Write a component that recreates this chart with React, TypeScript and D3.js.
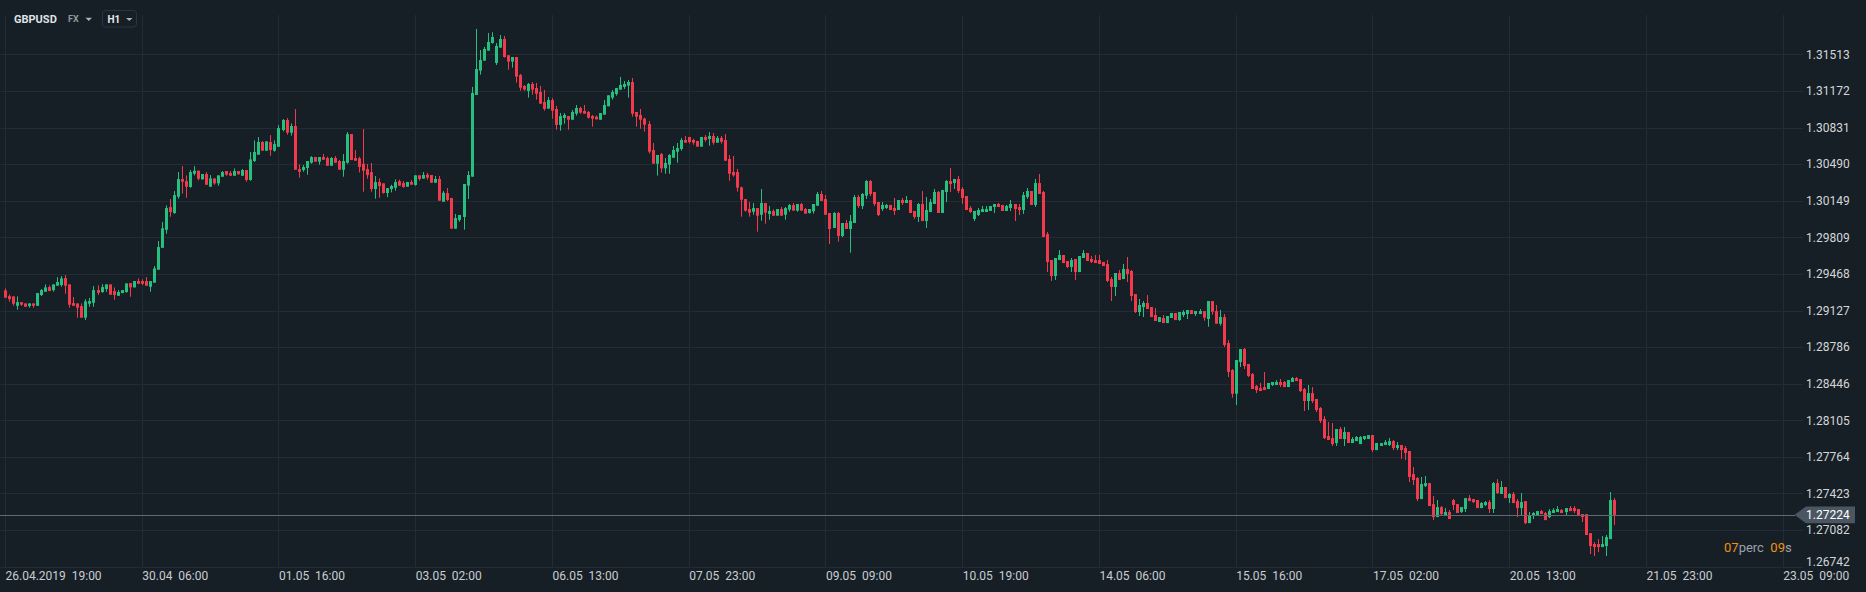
import React from "react";
import * as d3 from "d3";

const symbol = "GBPUSD";
const market = "FX";
const timeframe = "H1";
const countdown = [
  { v: "07", unit: "perc" },
  { v: "09", unit: "s" },
];

// one label every 34 hourly bars
const xTickLabels = [
  "26.04.2019  19:00", "30.04  06:00", "01.05  16:00", "03.05  02:00", "06.05  13:00",
  "07.05  23:00", "09.05  09:00", "10.05  19:00", "14.05  06:00", "15.05  16:00",
  "17.05  02:00", "20.05  13:00", "21.05  23:00", "23.05  09:00",
];
const barsPerTick = 34;

const yTickLabels = [
  "1.26742", "1.27082", "1.27423", "1.27764", "1.28105", "1.28446", "1.28786", "1.29127",
  "1.29468", "1.29809", "1.30149", "1.30490", "1.30831", "1.31172", "1.31513",
];

const opens = [
  1.29314, 1.29261, 1.29258, 1.29171, 1.29205, 1.29193, 1.29168, 1.29193, 1.29171, 1.29271,
  1.29302, 1.29345, 1.29317, 1.29358, 1.29364, 1.29429, 1.29370, 1.29196, 1.29193, 1.29168,
  1.29060, 1.29190, 1.29199, 1.29317, 1.29299, 1.29327, 1.29370, 1.29308, 1.29264, 1.29289,
  1.29299, 1.29382, 1.29342, 1.29401, 1.29401, 1.29401, 1.29348, 1.29386, 1.29507, 1.29711,
  1.29879, 1.30090, 1.30034, 1.30187, 1.30351, 1.30332, 1.30277, 1.30401, 1.30429, 1.30348,
  1.30398, 1.30280, 1.30357, 1.30311, 1.30373, 1.30426, 1.30407, 1.30382, 1.30426, 1.30382,
  1.30435, 1.30342, 1.30519, 1.30578, 1.30696, 1.30615, 1.30696, 1.30615, 1.30652, 1.30808,
  1.30901, 1.30783, 1.30845, 1.30444, 1.30435, 1.30454, 1.30503, 1.30556, 1.30513, 1.30556,
  1.30547, 1.30475, 1.30547, 1.30519, 1.30438, 1.30503, 1.30770, 1.30547, 1.30544, 1.30494,
  1.30444, 1.30416, 1.30258, 1.30323, 1.30311, 1.30221, 1.30258, 1.30270, 1.30332, 1.30314,
  1.30280, 1.30324, 1.30296, 1.30386, 1.30355, 1.30392, 1.30389, 1.30317, 1.30352, 1.30140,
  1.30221, 1.30175, 1.29889, 1.29970, 1.29998, 1.30290, 1.30373, 1.31134, 1.31361, 1.31454,
  1.31547, 1.31618, 1.31432, 1.31575, 1.31656, 1.31504, 1.31445, 1.31488, 1.31320, 1.31218,
  1.31171, 1.31237, 1.31199, 1.31162, 1.31069, 1.31007, 1.31087, 1.31004, 1.30855, 1.30920,
  1.30938, 1.30904, 1.30960, 1.31013, 1.30985, 1.30976, 1.30938, 1.30932, 1.30904, 1.30951,
  1.31029, 1.31109, 1.31143, 1.31184, 1.31209, 1.31221, 1.31255, 1.30976, 1.30948, 1.30914,
  1.30864, 1.30622, 1.30494, 1.30584, 1.30451, 1.30485, 1.30550, 1.30606, 1.30631, 1.30715,
  1.30743, 1.30715, 1.30706, 1.30653, 1.30743, 1.30724, 1.30752, 1.30690, 1.30734, 1.30715,
  1.30538, 1.30417, 1.30417, 1.30274, 1.30165, 1.30072, 1.30047, 1.30081, 1.30019, 1.30128,
  1.30026, 1.30054, 1.30010, 1.30072, 1.30019, 1.30066, 1.30109, 1.30057, 1.30119, 1.30072,
  1.30035, 1.30051, 1.30103, 1.30212, 1.30165, 1.30035, 1.29895, 1.30035, 1.29821, 1.29942,
  1.29886, 1.29942, 1.30184, 1.30100, 1.30196, 1.30333, 1.30231, 1.30137, 1.30072, 1.30082,
  1.30110, 1.30082, 1.30063, 1.30156, 1.30128, 1.30156, 1.30054, 1.29998, 1.30119, 1.29960,
  1.30044, 1.30119, 1.30231, 1.30035, 1.30231, 1.30333, 1.30314, 1.30352, 1.30259, 1.30193,
  1.30082, 1.29979, 1.30016, 1.30044, 1.30044, 1.30054, 1.30091, 1.30119, 1.30110, 1.30054,
  1.30082, 1.30119, 1.30091, 1.30063, 1.30184, 1.30240, 1.30110, 1.30314, 1.30231, 1.29839,
  1.29597, 1.29448, 1.29597, 1.29644, 1.29588, 1.29532, 1.29607, 1.29485, 1.29616, 1.29662,
  1.29607, 1.29597, 1.29597, 1.29579, 1.29560, 1.29420, 1.29346, 1.29476, 1.29420, 1.29513,
  1.29495, 1.29280, 1.29113, 1.29159, 1.29197, 1.29159, 1.29085, 1.29020, 1.29057, 1.29010,
  1.29057, 1.29104, 1.29038, 1.29085, 1.29094, 1.29131, 1.29094, 1.29094, 1.29122, 1.29048,
  1.29215, 1.29122, 1.29004, 1.29066, 1.28824, 1.28573, 1.28352, 1.28647, 1.28768, 1.28629,
  1.28535, 1.28424, 1.28405, 1.28414, 1.28396, 1.28433, 1.28433, 1.28461, 1.28461, 1.28414,
  1.28461, 1.28498, 1.28489, 1.28396, 1.28284, 1.28358, 1.28303, 1.28219, 1.28116, 1.27958,
  1.27939, 1.27893, 1.28023, 1.27930, 1.27995, 1.27893, 1.27911, 1.27883, 1.27930, 1.27930,
  1.27967, 1.27827, 1.27865, 1.27874, 1.27874, 1.27911, 1.27846, 1.27874, 1.27846, 1.27818,
  1.27604, 1.27567, 1.27371, 1.27492, 1.27520, 1.27324, 1.27203, 1.27296, 1.27222, 1.27250,
  1.27362, 1.27324, 1.27250, 1.27278, 1.27380, 1.27371, 1.27362, 1.27287, 1.27315, 1.27343,
  1.27278, 1.27520, 1.27418, 1.27483, 1.27380, 1.27418, 1.27352, 1.27287, 1.27352, 1.27147,
  1.27213, 1.27222, 1.27259, 1.27241, 1.27203, 1.27241, 1.27250, 1.27269, 1.27250, 1.27287,
  1.27287, 1.27278, 1.27231, 1.27231, 1.27054, 1.26952, 1.26952, 1.26924, 1.26933, 1.26998,
  1.27362,
];

const highs = [
  1.29333, 1.29277, 1.29258, 1.29258, 1.29205, 1.29193, 1.29193, 1.29193, 1.29289, 1.29327,
  1.29370, 1.29361, 1.29370, 1.29438, 1.29448, 1.29457, 1.29370, 1.29252, 1.29193, 1.29193,
  1.29233, 1.29243, 1.29354, 1.29361, 1.29373, 1.29370, 1.29370, 1.29342, 1.29317, 1.29317,
  1.29379, 1.29382, 1.29401, 1.29426, 1.29417, 1.29438, 1.29401, 1.29541, 1.29774, 1.29951,
  1.30106, 1.30165, 1.30239, 1.30416, 1.30472, 1.30385, 1.30435, 1.30472, 1.30429, 1.30398,
  1.30416, 1.30388, 1.30357, 1.30385, 1.30426, 1.30426, 1.30426, 1.30450, 1.30426, 1.30444,
  1.30435, 1.30603, 1.30711, 1.30742, 1.30705, 1.30702, 1.30761, 1.30711, 1.30854, 1.30910,
  1.30919, 1.30870, 1.31003, 1.30488, 1.30482, 1.30519, 1.30565, 1.30556, 1.30556, 1.30584,
  1.30559, 1.30556, 1.30565, 1.30528, 1.30584, 1.30789, 1.30770, 1.30621, 1.30559, 1.30817,
  1.30491, 1.30500, 1.30379, 1.30357, 1.30311, 1.30267, 1.30298, 1.30348, 1.30345, 1.30333,
  1.30324, 1.30342, 1.30386, 1.30386, 1.30417, 1.30408, 1.30389, 1.30380, 1.30380, 1.30240,
  1.30268, 1.30175, 1.30026, 1.30016, 1.30305, 1.30426, 1.31209, 1.31749, 1.31553, 1.31581,
  1.31712, 1.31718, 1.31618, 1.31693, 1.31684, 1.31504, 1.31488, 1.31488, 1.31330, 1.31227,
  1.31246, 1.31255, 1.31246, 1.31218, 1.31181, 1.31115, 1.31106, 1.31032, 1.30966, 1.30966,
  1.30938, 1.30994, 1.31041, 1.31025, 1.31041, 1.30985, 1.30948, 1.30942, 1.30966, 1.31087,
  1.31131, 1.31181, 1.31199, 1.31302, 1.31264, 1.31274, 1.31292, 1.30976, 1.31004, 1.30923,
  1.30892, 1.30687, 1.30575, 1.30594, 1.30547, 1.30584, 1.30659, 1.30687, 1.30734, 1.30752,
  1.30743, 1.30727, 1.30706, 1.30743, 1.30761, 1.30789, 1.30780, 1.30752, 1.30752, 1.30771,
  1.30575, 1.30566, 1.30445, 1.30280, 1.30165, 1.30137, 1.30128, 1.30081, 1.30258, 1.30128,
  1.30100, 1.30069, 1.30072, 1.30091, 1.30091, 1.30119, 1.30128, 1.30119, 1.30128, 1.30082,
  1.30072, 1.30119, 1.30231, 1.30240, 1.30203, 1.30035, 1.30044, 1.30044, 1.29942, 1.29970,
  1.30016, 1.30203, 1.30203, 1.30221, 1.30342, 1.30342, 1.30231, 1.30137, 1.30137, 1.30119,
  1.30110, 1.30175, 1.30156, 1.30175, 1.30193, 1.30156, 1.30054, 1.30128, 1.30240, 1.30184,
  1.30165, 1.30259, 1.30240, 1.30249, 1.30342, 1.30454, 1.30352, 1.30380, 1.30277, 1.30193,
  1.30100, 1.30054, 1.30082, 1.30100, 1.30100, 1.30100, 1.30119, 1.30128, 1.30110, 1.30110,
  1.30156, 1.30119, 1.30119, 1.30231, 1.30268, 1.30240, 1.30352, 1.30398, 1.30240, 1.29858,
  1.29597, 1.29616, 1.29690, 1.29644, 1.29588, 1.29616, 1.29607, 1.29634, 1.29690, 1.29662,
  1.29634, 1.29644, 1.29644, 1.29579, 1.29597, 1.29439, 1.29476, 1.29504, 1.29560, 1.29625,
  1.29504, 1.29280, 1.29234, 1.29215, 1.29271, 1.29159, 1.29150, 1.29066, 1.29085, 1.29076,
  1.29104, 1.29104, 1.29113, 1.29131, 1.29131, 1.29131, 1.29122, 1.29141, 1.29122, 1.29215,
  1.29215, 1.29178, 1.29132, 1.29094, 1.28852, 1.28582, 1.28666, 1.28768, 1.28778, 1.28629,
  1.28545, 1.28433, 1.28452, 1.28554, 1.28452, 1.28461, 1.28479, 1.28489, 1.28470, 1.28479,
  1.28507, 1.28507, 1.28489, 1.28405, 1.28433, 1.28414, 1.28303, 1.28228, 1.28144, 1.28088,
  1.28079, 1.28023, 1.28042, 1.28042, 1.27995, 1.27949, 1.27958, 1.27958, 1.27958, 1.27967,
  1.27967, 1.27893, 1.27893, 1.27921, 1.27939, 1.27921, 1.27902, 1.27874, 1.27865, 1.27818,
  1.27669, 1.27576, 1.27576, 1.27585, 1.27520, 1.27399, 1.27362, 1.27306, 1.27287, 1.27269,
  1.27371, 1.27324, 1.27296, 1.27380, 1.27408, 1.27371, 1.27362, 1.27343, 1.27352, 1.27362,
  1.27529, 1.27557, 1.27539, 1.27483, 1.27427, 1.27436, 1.27371, 1.27427, 1.27352, 1.27250,
  1.27250, 1.27259, 1.27269, 1.27250, 1.27278, 1.27287, 1.27306, 1.27278, 1.27287, 1.27306,
  1.27306, 1.27278, 1.27231, 1.27231, 1.27054, 1.26970, 1.26998, 1.27026, 1.27036, 1.27436,
  1.27380,
];

const lows = [
  1.29246, 1.29209, 1.29171, 1.29134, 1.29171, 1.29162, 1.29153, 1.29153, 1.29171, 1.29261,
  1.29302, 1.29308, 1.29302, 1.29358, 1.29348, 1.29283, 1.29153, 1.29171, 1.29060, 1.29060,
  1.29038, 1.29162, 1.29162, 1.29271, 1.29292, 1.29302, 1.29274, 1.29227, 1.29264, 1.29289,
  1.29292, 1.29255, 1.29342, 1.29376, 1.29364, 1.29358, 1.29302, 1.29386, 1.29507, 1.29711,
  1.29842, 1.30000, 1.30028, 1.30168, 1.30215, 1.30177, 1.30270, 1.30385, 1.30339, 1.30348,
  1.30298, 1.30280, 1.30298, 1.30289, 1.30373, 1.30382, 1.30382, 1.30382, 1.30395, 1.30382,
  1.30326, 1.30336, 1.30510, 1.30578, 1.30615, 1.30615, 1.30568, 1.30606, 1.30652, 1.30795,
  1.30764, 1.30755, 1.30438, 1.30364, 1.30419, 1.30392, 1.30494, 1.30513, 1.30485, 1.30531,
  1.30475, 1.30475, 1.30503, 1.30438, 1.30373, 1.30494, 1.30528, 1.30522, 1.30413, 1.30233,
  1.30354, 1.30233, 1.30168, 1.30177, 1.30215, 1.30183, 1.30227, 1.30242, 1.30289, 1.30271,
  1.30280, 1.30299, 1.30290, 1.30336, 1.30355, 1.30345, 1.30317, 1.30317, 1.30150, 1.30140,
  1.30147, 1.29889, 1.29889, 1.29954, 1.29880, 1.30165, 1.30373, 1.31134, 1.31323, 1.31454,
  1.31547, 1.31612, 1.31414, 1.31575, 1.31482, 1.31370, 1.31389, 1.31249, 1.31174, 1.31174,
  1.31109, 1.31137, 1.31091, 1.31053, 1.30988, 1.31007, 1.30914, 1.30811, 1.30802, 1.30867,
  1.30811, 1.30904, 1.30942, 1.30960, 1.30960, 1.30914, 1.30839, 1.30907, 1.30904, 1.30951,
  1.31029, 1.31091, 1.31128, 1.31184, 1.31190, 1.31109, 1.30932, 1.30839, 1.30820, 1.30793,
  1.30588, 1.30494, 1.30383, 1.30411, 1.30401, 1.30401, 1.30550, 1.30504, 1.30616, 1.30690,
  1.30681, 1.30671, 1.30653, 1.30653, 1.30699, 1.30662, 1.30671, 1.30690, 1.30681, 1.30522,
  1.30336, 1.30373, 1.30234, 1.30001, 1.30047, 1.30001, 1.30019, 1.29861, 1.29963, 1.29936,
  1.29973, 1.30010, 1.30010, 1.30010, 1.29973, 1.30047, 1.30057, 1.30047, 1.30057, 1.30029,
  1.30029, 1.30029, 1.30103, 1.30147, 1.30019, 1.29746, 1.29895, 1.29768, 1.29811, 1.29886,
  1.29666, 1.29942, 1.30082, 1.30072, 1.30165, 1.30193, 1.30100, 1.30007, 1.30054, 1.30072,
  1.30063, 1.30016, 1.30063, 1.30110, 1.30128, 1.30035, 1.29979, 1.29951, 1.29960, 1.29895,
  1.30044, 1.30119, 1.30035, 1.30035, 1.30137, 1.30231, 1.30259, 1.30221, 1.30119, 1.30063,
  1.30035, 1.29960, 1.30007, 1.30044, 1.30044, 1.30054, 1.30035, 1.30091, 1.30054, 1.30054,
  1.30054, 1.29960, 1.30016, 1.30026, 1.30165, 1.30110, 1.30091, 1.30212, 1.29811, 1.29485,
  1.29402, 1.29411, 1.29597, 1.29569, 1.29523, 1.29485, 1.29411, 1.29485, 1.29616, 1.29588,
  1.29569, 1.29569, 1.29560, 1.29541, 1.29392, 1.29215, 1.29262, 1.29411, 1.29420, 1.29392,
  1.29215, 1.29104, 1.29076, 1.29066, 1.29141, 1.29066, 1.29029, 1.29020, 1.29010, 1.29010,
  1.29057, 1.29038, 1.29029, 1.29066, 1.29048, 1.29094, 1.29076, 1.29094, 1.29032, 1.28976,
  1.29088, 1.29004, 1.28986, 1.28787, 1.28507, 1.28315, 1.28247, 1.28601, 1.28582, 1.28507,
  1.28396, 1.28358, 1.28377, 1.28386, 1.28396, 1.28424, 1.28433, 1.28414, 1.28414, 1.28414,
  1.28461, 1.28470, 1.28368, 1.28191, 1.28200, 1.28265, 1.28181, 1.28079, 1.27930, 1.27921,
  1.27865, 1.27865, 1.27930, 1.27865, 1.27893, 1.27893, 1.27911, 1.27883, 1.27921, 1.27930,
  1.27809, 1.27827, 1.27865, 1.27874, 1.27865, 1.27827, 1.27827, 1.27744, 1.27734, 1.27529,
  1.27501, 1.27352, 1.27371, 1.27483, 1.27306, 1.27175, 1.27203, 1.27222, 1.27222, 1.27185,
  1.27269, 1.27241, 1.27241, 1.27250, 1.27352, 1.27334, 1.27287, 1.27287, 1.27306, 1.27241,
  1.27241, 1.27418, 1.27418, 1.27380, 1.27334, 1.27334, 1.27203, 1.27222, 1.27138, 1.27147,
  1.27185, 1.27222, 1.27231, 1.27175, 1.27194, 1.27241, 1.27250, 1.27241, 1.27222, 1.27259,
  1.27241, 1.27222, 1.27157, 1.27036, 1.26859, 1.26840, 1.26877, 1.26924, 1.26840, 1.26998,
  1.27129,
];

const closes = [
  1.29246, 1.29233, 1.29190, 1.29205, 1.29181, 1.29162, 1.29193, 1.29171, 1.29289, 1.29317,
  1.29342, 1.29308, 1.29370, 1.29392, 1.29426, 1.29358, 1.29181, 1.29171, 1.29153, 1.29060,
  1.29212, 1.29215, 1.29317, 1.29292, 1.29345, 1.29370, 1.29274, 1.29271, 1.29299, 1.29317,
  1.29379, 1.29342, 1.29401, 1.29376, 1.29376, 1.29358, 1.29401, 1.29519, 1.29718, 1.29892,
  1.30081, 1.30044, 1.30202, 1.30351, 1.30326, 1.30280, 1.30416, 1.30429, 1.30354, 1.30398,
  1.30298, 1.30357, 1.30311, 1.30385, 1.30416, 1.30392, 1.30382, 1.30426, 1.30395, 1.30435,
  1.30342, 1.30534, 1.30603, 1.30696, 1.30615, 1.30702, 1.30621, 1.30677, 1.30826, 1.30901,
  1.30783, 1.30845, 1.30438, 1.30419, 1.30463, 1.30519, 1.30556, 1.30513, 1.30556, 1.30531,
  1.30475, 1.30547, 1.30503, 1.30438, 1.30519, 1.30770, 1.30528, 1.30522, 1.30463, 1.30429,
  1.30388, 1.30258, 1.30323, 1.30286, 1.30221, 1.30267, 1.30286, 1.30323, 1.30289, 1.30277,
  1.30324, 1.30299, 1.30386, 1.30352, 1.30389, 1.30364, 1.30317, 1.30352, 1.30150, 1.30224,
  1.30156, 1.29889, 1.29988, 1.30016, 1.30305, 1.30389, 1.31153, 1.31376, 1.31460, 1.31563,
  1.31628, 1.31674, 1.31591, 1.31656, 1.31488, 1.31445, 1.31488, 1.31305, 1.31202, 1.31184,
  1.31237, 1.31184, 1.31146, 1.31053, 1.31004, 1.31087, 1.30988, 1.30855, 1.30938, 1.30948,
  1.30904, 1.30976, 1.31013, 1.30970, 1.30960, 1.30923, 1.30914, 1.30907, 1.30966, 1.31041,
  1.31131, 1.31162, 1.31199, 1.31227, 1.31237, 1.31255, 1.30960, 1.30932, 1.30904, 1.30858,
  1.30606, 1.30494, 1.30575, 1.30451, 1.30501, 1.30575, 1.30622, 1.30640, 1.30715, 1.30690,
  1.30696, 1.30690, 1.30653, 1.30743, 1.30715, 1.30752, 1.30690, 1.30734, 1.30699, 1.30522,
  1.30401, 1.30386, 1.30271, 1.30159, 1.30057, 1.30038, 1.30081, 1.30010, 1.30128, 1.30038,
  1.30054, 1.30010, 1.30072, 1.30010, 1.30081, 1.30109, 1.30057, 1.30119, 1.30057, 1.30029,
  1.30072, 1.30119, 1.30212, 1.30147, 1.30019, 1.29886, 1.30035, 1.29821, 1.29942, 1.29886,
  1.29960, 1.30184, 1.30100, 1.30212, 1.30333, 1.30212, 1.30119, 1.30016, 1.30110, 1.30110,
  1.30063, 1.30054, 1.30156, 1.30128, 1.30156, 1.30035, 1.29998, 1.30119, 1.29960, 1.30063,
  1.30137, 1.30231, 1.30035, 1.30249, 1.30333, 1.30305, 1.30352, 1.30240, 1.30175, 1.30063,
  1.30044, 1.30054, 1.30063, 1.30072, 1.30072, 1.30100, 1.30119, 1.30091, 1.30054, 1.30100,
  1.30119, 1.30072, 1.30063, 1.30203, 1.30240, 1.30110, 1.30314, 1.30212, 1.29811, 1.29579,
  1.29448, 1.29616, 1.29644, 1.29569, 1.29532, 1.29597, 1.29485, 1.29634, 1.29662, 1.29588,
  1.29579, 1.29569, 1.29560, 1.29541, 1.29402, 1.29346, 1.29476, 1.29411, 1.29513, 1.29467,
  1.29262, 1.29113, 1.29178, 1.29197, 1.29141, 1.29066, 1.29029, 1.29066, 1.29010, 1.29076,
  1.29104, 1.29038, 1.29113, 1.29113, 1.29131, 1.29094, 1.29122, 1.29122, 1.29060, 1.29215,
  1.29116, 1.29004, 1.29066, 1.28806, 1.28554, 1.28352, 1.28666, 1.28768, 1.28610, 1.28517,
  1.28396, 1.28386, 1.28377, 1.28386, 1.28452, 1.28461, 1.28461, 1.28433, 1.28414, 1.28479,
  1.28498, 1.28470, 1.28377, 1.28284, 1.28358, 1.28284, 1.28200, 1.28098, 1.27939, 1.27921,
  1.27883, 1.28023, 1.27930, 1.27995, 1.27893, 1.27930, 1.27949, 1.27949, 1.27958, 1.27967,
  1.27827, 1.27893, 1.27893, 1.27902, 1.27911, 1.27846, 1.27874, 1.27827, 1.27800, 1.27576,
  1.27548, 1.27371, 1.27511, 1.27520, 1.27306, 1.27203, 1.27296, 1.27231, 1.27250, 1.27185,
  1.27315, 1.27241, 1.27296, 1.27380, 1.27352, 1.27343, 1.27287, 1.27334, 1.27343, 1.27278,
  1.27520, 1.27427, 1.27483, 1.27380, 1.27418, 1.27334, 1.27287, 1.27343, 1.27147, 1.27213,
  1.27241, 1.27259, 1.27231, 1.27175, 1.27259, 1.27269, 1.27278, 1.27241, 1.27287, 1.27259,
  1.27259, 1.27222, 1.27203, 1.27036, 1.26933, 1.26924, 1.26924, 1.26952, 1.27017, 1.27362,
  1.27224,
];

const BG = "#171f26";
const GRID = "#232c34";
const UP = "#26bf80";
const DOWN = "#f23a4c";
const FONT = "Roboto, 'Noto Sans', sans-serif";

export default function App() {
  const W = 1866;
  const H = 592;
  const plotRight = 1803;
  const gridTop = 15;
  const plotBottom = 567;

  const lastTick = (xTickLabels.length - 1) * barsPerTick;
  const x = d3.scaleLinear().domain([0, lastTick]).range([5, 1782.7]);
  const yMin = +yTickLabels[0];
  const yMax = +yTickLabels[yTickLabels.length - 1];
  const y = d3.scaleLinear().domain([yMin, yMax]).range([566.6, 54.3]);

  const n = Math.min(opens.length, highs.length, lows.length, closes.length);
  const bars = d3.range(n).map((i) => ({
    i,
    o: opens[i],
    h: highs[i],
    l: lows[i],
    c: closes[i],
  }));

  const last = closes[n - 1];
  const lastY = y(last);
  const lastLabel = last.toFixed(5);

  const crisp = (v: number) => Math.round(v) + 0.5;

  return (
    <div style={{ position: "fixed", left: 0, top: 0, width: W, height: H, background: BG }}>
      <svg width={W} height={H} style={{ display: "block" }} fontFamily={FONT}>
        <rect x={0} y={0} width={W} height={H} fill={BG} />

        {/* horizontal grid */}
        {yTickLabels.map((t) => (
          <line
            key={"hg" + t}
            x1={0}
            x2={plotRight}
            y1={crisp(y(+t))}
            y2={crisp(y(+t))}
            stroke={GRID}
            strokeWidth={1}
          />
        ))}
        {/* vertical grid */}
        {xTickLabels.map((t, k) => (
          <line
            key={"vg" + k}
            x1={crisp(x(k * barsPerTick))}
            x2={crisp(x(k * barsPerTick))}
            y1={gridTop}
            y2={plotBottom}
            stroke={GRID}
            strokeWidth={1}
          />
        ))}

        {/* candles */}
        {bars.map((b) => {
          const cx = Math.round(x(b.i));
          const up = b.c >= b.o;
          const col = up ? UP : DOWN;
          const top = y(Math.max(b.o, b.c));
          const bot = y(Math.min(b.o, b.c));
          return (
            <g key={b.i}>
              <line
                x1={cx + 0.5}
                x2={cx + 0.5}
                y1={y(b.h)}
                y2={y(b.l)}
                stroke={col}
                strokeWidth={1}
              />
              <rect x={cx - 1} y={top} width={3} height={Math.max(1, bot - top)} fill={col} />
            </g>
          );
        })}

        {/* last price line */}
        <line x1={0} x2={1795} y1={crisp(lastY)} y2={crisp(lastY)} stroke="#5f6a74" strokeWidth={1} />

        {/* y tick labels */}
        {yTickLabels.map((t) => (
          <text
            key={"yl" + t}
            x={1806}
            y={Math.min(y(+t), 561.7)}
            dy="0.36em"
            fontSize={12}
            fill="#d3d6d9"
          >
            {t}
          </text>
        ))}

        {/* last price tag */}
        <path
          d={`M1794.5,${lastY} L1806,${lastY - 8.3} L1855,${lastY - 8.3} L1855,${lastY + 8.3} L1806,${lastY + 8.3} Z`}
          fill="#4a5661"
        />
        <text x={1806} y={lastY} dy="0.36em" fontSize={12} fill="#ffffff">
          {lastLabel}
        </text>

        {/* countdown */}
        <text x={1724} y={552} fontSize={13} style={{ whiteSpace: "pre" }}>
          {countdown.map((c, k) => (
            <React.Fragment key={k}>
              <tspan fill="#ef9212">{(k > 0 ? "  " : "") + c.v}</tspan>
              <tspan fill="#9aa2aa">{c.unit}</tspan>
            </React.Fragment>
          ))}
        </text>

        {/* x tick labels */}
        {xTickLabels.map((t, k) => (
          <text
            key={"xl" + k}
            x={x(k * barsPerTick) + 0.5}
            y={580}
            fontSize={12}
            fill="#c9cdd1"
            style={{ whiteSpace: "pre" }}
          >
            {t}
          </text>
        ))}

        {/* header */}
        <text x={14} y={23.3} fontSize={11} fontWeight={700} fill="#dfe3e6">
          {symbol}
        </text>
        <text x={68} y={22.3} fontSize={9} fontWeight={700} fill="#8d97a0">
          {market}
        </text>
        <path d="M85.5,17.7 L92,17.7 L88.75,21 Z" fill="#aab2b9" />
        <rect x={102.5} y={10.5} width={34} height={16.5} rx={3} fill="none" stroke="#2b353e" />
        <text x={107.5} y={22.7} fontSize={10} fontWeight={700} fill="#e6e9eb">
          {timeframe}
        </text>
        <path d="M126,18 L132.5,18 L129.25,21 Z" fill="#aab2b9" />
      </svg>
    </div>
  );
}
